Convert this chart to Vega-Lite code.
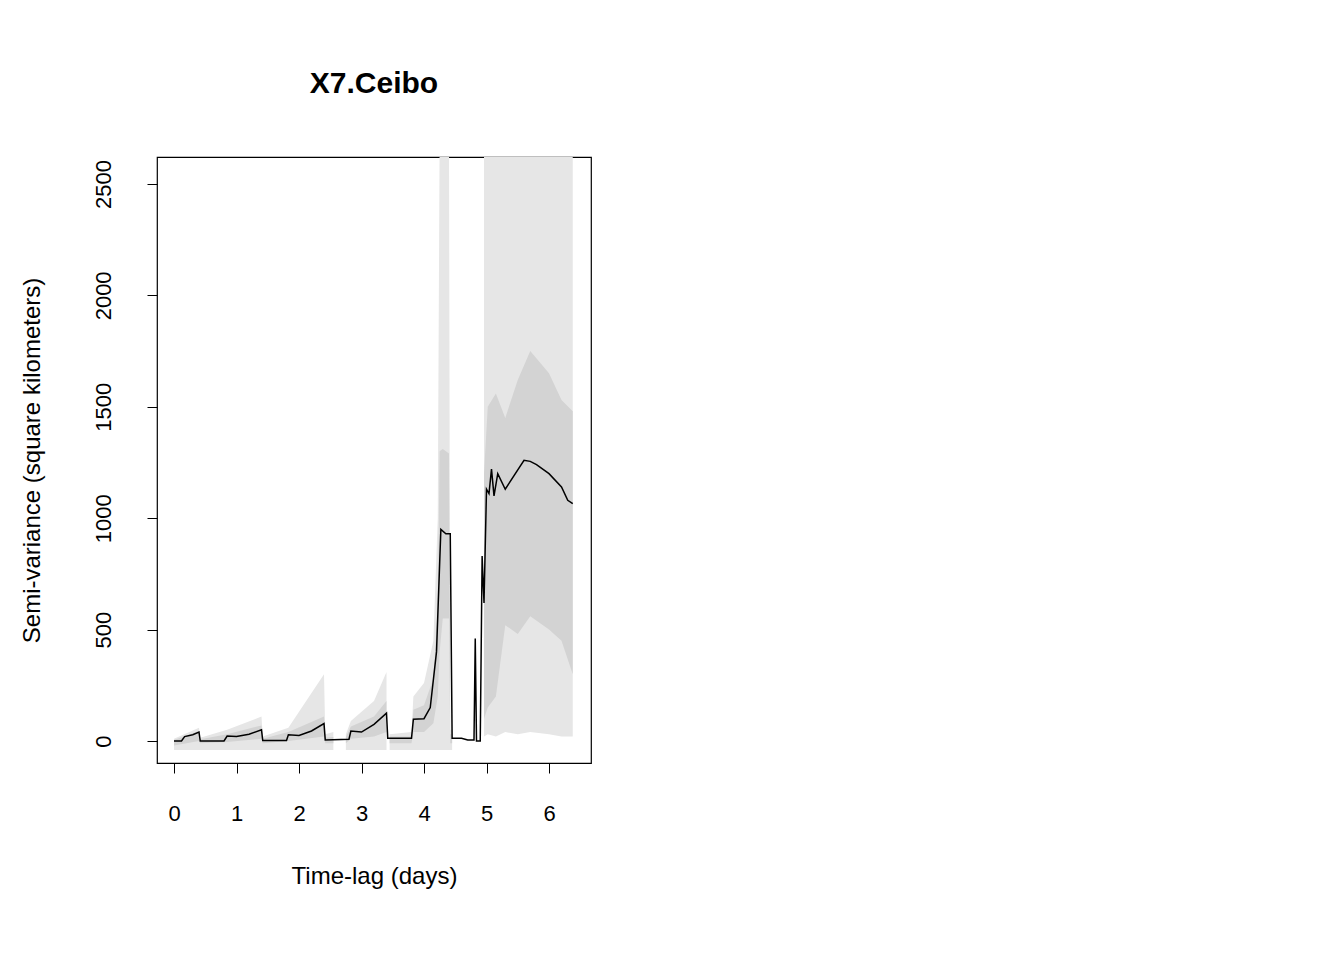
{
  "$schema": "https://vega.github.io/schema/vega-lite/v6.json",
  "autosize": "none",
  "width": 434,
  "height": 606,
  "padding": {"left": 157, "top": 157, "right": 753, "bottom": 197},
  "background": "white",
  "title": {"text": "X7.Ceibo", "font": "Liberation Sans", "fontSize": 30, "fontWeight": "bold", "offset": 58, "anchor": "middle", "color": "black"},
  "config": {
    "view": {"stroke": "black", "strokeWidth": 1.2},
    "font": "Liberation Sans",
    "axis": {"grid": false, "domain": false, "tickColor": "black", "tickSize": 10, "labelFontSize": 22, "titleFontSize": 24,
      "labelColor": "black", "titleColor": "black", "titleFontWeight": "normal", "labelFont": "Liberation Sans", "titleFont": "Liberation Sans"}
  },
  "datasets": {
    "band": [
      {"seg": 1, "t": 0.0, "lo": -40, "hi": 10, "ilo": -20, "ihi": 5},
      {"seg": 1, "t": 0.4, "lo": -40, "hi": 60, "ilo": 0, "ihi": 45},
      {"seg": 1, "t": 0.42, "lo": -40, "hi": 15, "ilo": -10, "ihi": 8},
      {"seg": 1, "t": 0.85, "lo": -40, "hi": 50, "ilo": -5, "ihi": 30},
      {"seg": 1, "t": 1.4, "lo": -40, "hi": 110, "ilo": 10, "ihi": 70},
      {"seg": 1, "t": 1.42, "lo": -40, "hi": 20, "ilo": -10, "ihi": 10},
      {"seg": 1, "t": 1.83, "lo": -40, "hi": 60, "ilo": 0, "ihi": 40},
      {"seg": 1, "t": 2.4, "lo": -40, "hi": 300, "ilo": 20, "ihi": 110},
      {"seg": 1, "t": 2.42, "lo": -40, "hi": 30, "ilo": -10, "ihi": 15},
      {"seg": 1, "t": 2.55, "lo": -40, "hi": 40, "ilo": -10, "ihi": 18},
      {"seg": 2, "t": 2.75, "lo": -40, "hi": 30, "ilo": -10, "ihi": 18},
      {"seg": 2, "t": 2.83, "lo": -40, "hi": 90, "ilo": 10, "ihi": 65},
      {"seg": 2, "t": 3.2, "lo": -40, "hi": 180, "ilo": 20, "ihi": 110},
      {"seg": 2, "t": 3.4, "lo": -40, "hi": 310, "ilo": 40, "ihi": 180},
      {"seg": 3, "t": 3.45, "lo": -40, "hi": 30, "ilo": -10, "ihi": 20},
      {"seg": 3, "t": 3.8, "lo": -40, "hi": 40, "ilo": -10, "ihi": 20},
      {"seg": 3, "t": 3.83, "lo": -40, "hi": 200, "ilo": 40, "ihi": 140},
      {"seg": 3, "t": 4.0, "lo": -40, "hi": 260, "ilo": 40, "ihi": 160},
      {"seg": 3, "t": 4.15, "lo": -40, "hi": 450, "ilo": 80, "ihi": 280},
      {"seg": 3, "t": 4.22, "lo": -40, "hi": 1000, "ilo": 200, "ihi": 600},
      {"seg": 3, "t": 4.25, "lo": -40, "hi": 2700, "ilo": 400, "ihi": 1300},
      {"seg": 3, "t": 4.3, "lo": -40, "hi": 2700, "ilo": 550, "ihi": 1310},
      {"seg": 3, "t": 4.4, "lo": -40, "hi": 2700, "ilo": 550, "ihi": 1290},
      {"seg": 3, "t": 4.42, "lo": -40, "hi": 50, "ilo": -10, "ihi": 30},
      {"seg": 3, "t": 4.45, "lo": -40, "hi": 50, "ilo": -10, "ihi": 30},
      {"seg": 4, "t": 4.96, "lo": 20, "hi": 2700, "ilo": 100, "ihi": 1200},
      {"seg": 4, "t": 5.02, "lo": 30, "hi": 2700, "ilo": 150, "ihi": 1500},
      {"seg": 4, "t": 5.15, "lo": 20, "hi": 2700, "ilo": 200, "ihi": 1560},
      {"seg": 4, "t": 5.3, "lo": 40, "hi": 2700, "ilo": 520, "ihi": 1450},
      {"seg": 4, "t": 5.5, "lo": 30, "hi": 2700, "ilo": 480, "ihi": 1620},
      {"seg": 4, "t": 5.7, "lo": 40, "hi": 2700, "ilo": 560, "ihi": 1750},
      {"seg": 4, "t": 6.0, "lo": 30, "hi": 2700, "ilo": 500, "ihi": 1650},
      {"seg": 4, "t": 6.2, "lo": 20, "hi": 2700, "ilo": 450, "ihi": 1530},
      {"seg": 4, "t": 6.38, "lo": 20, "hi": 2700, "ilo": 300, "ihi": 1480}
    ],
    "line": [
      {"t": 0.0, "v": 0}, {"t": 0.12, "v": 0}, {"t": 0.17, "v": 20}, {"t": 0.3, "v": 28},
      {"t": 0.4, "v": 40}, {"t": 0.42, "v": 0}, {"t": 0.8, "v": 0}, {"t": 0.85, "v": 22},
      {"t": 1.0, "v": 20}, {"t": 1.2, "v": 30}, {"t": 1.4, "v": 50}, {"t": 1.42, "v": 2},
      {"t": 1.8, "v": 2}, {"t": 1.83, "v": 28}, {"t": 2.0, "v": 25}, {"t": 2.2, "v": 45},
      {"t": 2.4, "v": 78}, {"t": 2.42, "v": 5}, {"t": 2.8, "v": 8}, {"t": 2.83, "v": 45},
      {"t": 3.0, "v": 40}, {"t": 3.2, "v": 75}, {"t": 3.4, "v": 125}, {"t": 3.42, "v": 12},
      {"t": 3.8, "v": 12}, {"t": 3.83, "v": 98}, {"t": 4.0, "v": 100}, {"t": 4.1, "v": 150},
      {"t": 4.2, "v": 400}, {"t": 4.27, "v": 950}, {"t": 4.35, "v": 930}, {"t": 4.42, "v": 930},
      {"t": 4.45, "v": 12}, {"t": 4.6, "v": 12}, {"t": 4.7, "v": 5}, {"t": 4.8, "v": 5},
      {"t": 4.82, "v": 460}, {"t": 4.84, "v": 0}, {"t": 4.9, "v": 0}, {"t": 4.93, "v": 830},
      {"t": 4.96, "v": 620}, {"t": 5.0, "v": 1130}, {"t": 5.04, "v": 1110}, {"t": 5.08, "v": 1220},
      {"t": 5.12, "v": 1100}, {"t": 5.18, "v": 1200}, {"t": 5.3, "v": 1130}, {"t": 5.6, "v": 1260},
      {"t": 5.7, "v": 1255}, {"t": 5.8, "v": 1240}, {"t": 6.0, "v": 1200}, {"t": 6.2, "v": 1140},
      {"t": 6.3, "v": 1080}, {"t": 6.38, "v": 1065}
    ]
  },
  "encoding": {
    "x": {
      "field": "t", "type": "quantitative",
      "scale": {"domain": [-0.272, 6.672], "nice": false, "zero": false},
      "axis": {"title": "Time-lag (days)", "values": [0, 1, 2, 3, 4, 5, 6], "labelPadding": 30, "titlePadding": 40}
    }
  },
  "layer": [
    {
      "data": {"name": "band"},
      "mark": {"type": "area", "color": "#e6e6e6", "clip": true, "opacity": 1},
      "encoding": {
        "detail": {"field": "seg"},
        "y": {"field": "lo", "type": "quantitative",
          "scale": {"domain": [-98.7, 2621], "nice": false, "zero": false},
          "axis": {"title": "Semi-variance (square kilometers)", "values": [0, 500, 1000, 1500, 2000, 2500], "format": "d",
            "labelAngle": -90, "labelAlign": "center", "labelBaseline": "bottom", "labelPadding": 32, "titlePadding": 48}},
        "y2": {"field": "hi"}
      }
    },
    {
      "data": {"name": "band"},
      "mark": {"type": "area", "color": "#d3d3d3", "clip": true, "opacity": 1},
      "encoding": {
        "detail": {"field": "seg"},
        "y": {"field": "ilo", "type": "quantitative"},
        "y2": {"field": "ihi"}
      }
    },
    {
      "data": {"name": "line"},
      "mark": {"type": "line", "color": "black", "strokeWidth": 1.5, "clip": true},
      "encoding": {"y": {"field": "v", "type": "quantitative"}}
    }
  ]
}
